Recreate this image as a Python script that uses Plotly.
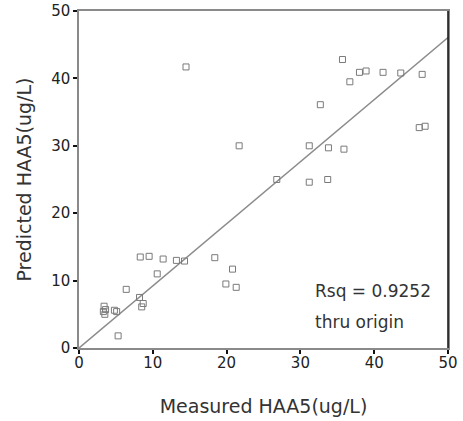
import plotly.graph_objects as go

measured = [14.5, 21.7, 35.7, 38.0, 38.9, 41.2, 43.6, 46.5, 36.7, 32.7, 46.1, 46.9,
            31.2, 33.8, 35.9, 26.8, 31.2, 33.7,
            8.3, 9.5, 11.4, 13.2, 14.3, 18.4, 20.8, 19.9, 21.3, 10.6, 6.4,
            8.2, 8.7, 8.5, 3.4, 3.6, 3.3, 3.5, 4.8, 5.1, 5.3]
predicted = [41.7, 30.0, 42.8, 40.9, 41.1, 40.9, 40.8, 40.6, 39.5, 36.1, 32.7, 32.9,
             30.0, 29.7, 29.5, 25.0, 24.6, 25.0,
             13.5, 13.6, 13.2, 13.0, 12.9, 13.4, 11.7, 9.5, 9.0, 11.0, 8.7,
             7.5, 6.6, 6.1, 6.2, 5.7, 5.4, 5.0, 5.6, 5.4, 1.8]
ticks = [0, 10, 20, 30, 40, 50]
rsq_text = "Rsq = 0.9252"
note_text = "thru origin"
fit_x = [0, 50]

slope = sum(a * b for a, b in zip(measured, predicted)) / sum(a * a for a in measured)
fit_y = [slope * v for v in fit_x]

fig = go.Figure()
fig.add_trace(go.Scatter(x=fit_x, y=fit_y, mode="lines",
                         line=dict(color="#8c8c8c", width=1.5), hoverinfo="skip"))
fig.add_trace(go.Scatter(x=measured, y=predicted, mode="markers",
                         marker=dict(symbol="square-open", size=6,
                                     color="#7a7a7a", line=dict(width=1))))

axis_common = dict(range=[0, 50], tickvals=ticks, showgrid=False, zeroline=False,
                   showline=True, linecolor="#8a8a8a", linewidth=1.5, mirror=True,
                   ticks="outside", ticklen=4, tickwidth=2, tickcolor="#111",
                   automargin=False, ticklabeloverflow="allow",
                   tickfont=dict(family="DejaVu Sans", size=15, color="#222"))
fig.update_xaxes(**axis_common, ticklabelstandoff=-4,
                 title=dict(text="Measured HAA5(ug/L)", standoff=29,
                            font=dict(family="DejaVu Sans", size=19, color="#333")))
fig.update_yaxes(**axis_common,
                 title=dict(text="Predicted HAA5(ug/L)", standoff=15,
                            font=dict(family="DejaVu Sans", size=19, color="#333")))

fig.add_shape(type="line", xref="paper", yref="paper", x0=1, x1=1, y0=0, y1=1,
              line=dict(color="#111", width=1.5))
fig.add_annotation(x=0.634, y=0.169, xref="paper", yref="paper", text=rsq_text,
                   showarrow=False, xanchor="left", yanchor="middle",
                   font=dict(family="DejaVu Sans", size=17, color="#333"))
fig.add_annotation(x=0.634, y=0.077, xref="paper", yref="paper", text=note_text,
                   showarrow=False, xanchor="left", yanchor="middle",
                   font=dict(family="DejaVu Sans", size=17, color="#333"))

fig.update_layout(width=463, height=421, showlegend=False,
                  paper_bgcolor="white", plot_bgcolor="white",
                  margin=dict(l=79, r=15, t=11, b=73))
fig.write_html("out.html", config={"displayModeBar": False},
               post_script="document.body.style.margin='0';document.body.style.overflow='hidden';")
